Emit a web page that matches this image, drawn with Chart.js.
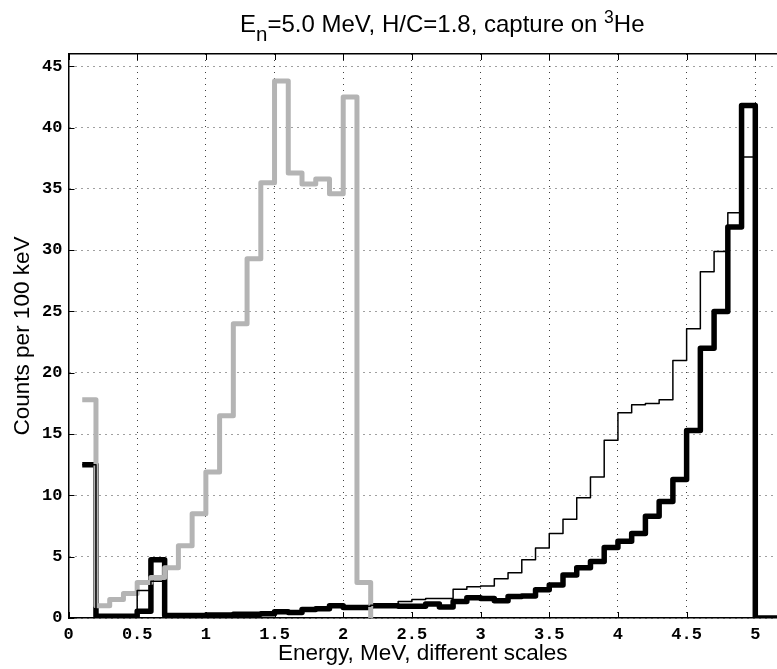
<!DOCTYPE html>
<html>
<head>
<meta charset="utf-8">
<script src="https://cdn.jsdelivr.net/npm/chart.js@4.4.0/dist/chart.umd.min.js"></script>
<style>
  html, body { margin: 0; padding: 0; background: #fff; }
  #wrap { position: relative; width: 777px; height: 669px; overflow: hidden; }
  #title { position: absolute; left: 240px; top: 13px; font: 24px "Liberation Sans", Arial, sans-serif; line-height: 22px; color: #000; white-space: nowrap; }
  #title .sub { position: relative; top: 9px; font-size: 20.5px; }
  #title .sup { position: relative; top: -9px; font-size: 17.5px; }
</style>
</head>
<body>
<div id="wrap">
  <canvas id="c" width="777" height="669"></canvas>
  <div id="title">E<span class="sub">n</span>=5.0 MeV, H/C=1.8, capture on <span class="sup">3</span>He</div>
</div>
<script>
// bin left edges, MeV (100 keV bins)
const binEdges = [0.1, 0.2, 0.3, 0.4, 0.5, 0.6, 0.7, 0.8, 0.9, 1.0,
  1.1, 1.2, 1.3, 1.4, 1.5, 1.6, 1.7, 1.8, 1.9, 2.0,
  2.1, 2.2, 2.3, 2.4, 2.5, 2.6, 2.7, 2.8, 2.9, 3.0,
  3.1, 3.2, 3.3, 3.4, 3.5, 3.6, 3.7, 3.8, 3.9, 4.0,
  4.1, 4.2, 4.3, 4.4, 4.5, 4.6, 4.7, 4.8, 4.9, 5.0,
  5.1, 5.2];

// grey: bins 0.1 .. 2.1
const grayCounts = [17.8, 1.0, 1.5, 2.0, 2.9, 3.3, 4.1, 5.9, 8.5, 11.9,
  16.5, 24.0, 29.3, 35.5, 43.8, 36.3, 35.4, 35.8, 34.6, 42.5,
  2.9];

// thick black: bins 0.1 .. 5.1
const thickCounts = [12.5, 0.15, 0.15, 0.15, 0.55, 4.75, 0.2, 0.2, 0.2, 0.25,
  0.25, 0.3, 0.3, 0.35, 0.5, 0.45, 0.7, 0.75, 1.0, 0.85,
  0.85, 1.0, 1.0, 0.95, 0.95, 1.15, 0.9, 1.35, 1.65, 1.6,
  1.4, 1.75, 1.8, 2.3, 2.7, 3.5, 4.1, 4.6, 5.75, 6.25,
  6.9, 8.3, 9.5, 11.3, 15.3, 22.0, 25.0, 31.9, 41.8, 0,
  0];

// thin black: bins 0.1 .. 5.1
const thinCounts = [12.5, 0.05, 0.05, 0.05, 2.25, 3.0, 0.1, 0.1, 0.15, 0.2,
  0.2, 0.25, 0.3, 0.35, 0.45, 0.45, 0.65, 0.75, 0.9, 0.95,
  0.95, 1.05, 1.15, 1.35, 1.5, 1.6, 1.6, 2.35, 2.55, 2.6,
  3.2, 3.7, 4.75, 5.7, 6.9, 8.05, 9.8, 11.5, 14.5, 16.75,
  17.4, 17.5, 17.8, 21.0, 23.6, 28.25, 29.9, 33.05, 37.6, 0,
  0];

const xTicks = [0, 0.5, 1, 1.5, 2, 2.5, 3, 3.5, 4, 4.5, 5];
const yTicks = [0, 5, 10, 15, 20, 25, 30, 35, 40, 45];

const X_MAX = 5.158, Y_MAX = 46;

// MATLAB-like stairs: step at each bin edge, drop to 0 at the last edge
function stairs(counts) {
  const pts = counts.map((c, i) => ({ x: binEdges[i], y: c }));
  pts.push({ x: binEdges[counts.length], y: 0 });
  return pts;
}

const tickFont = { family: 'Liberation Mono', size: 17, weight: 'bold' };
const labelFont = { family: 'Liberation Sans', size: 22.5 };

// short tick marks drawn inside the box
const inwardTicks = {
  id: 'inwardTicks',
  afterDraw(chart) {
    const { ctx, chartArea: a, scales: { x, y } } = chart;
    ctx.save();
    ctx.strokeStyle = '#000';
    ctx.lineWidth = 1;
    ctx.beginPath();
    xTicks.forEach(v => {
      const px = Math.round(x.getPixelForValue(v)) + 0.5;
      ctx.moveTo(px, a.bottom); ctx.lineTo(px, a.bottom - 6);
      ctx.moveTo(px, a.top); ctx.lineTo(px, a.top + 6);
    });
    yTicks.forEach(v => {
      const py = Math.round(y.getPixelForValue(v)) + 0.5;
      ctx.moveTo(a.left, py); ctx.lineTo(a.left + 6, py);
    });
    ctx.stroke();
    ctx.restore();
  }
};

new Chart(document.getElementById('c'), {
  type: 'line',
  data: {
    datasets: [
      { data: stairs(thinCounts), borderColor: '#000', borderWidth: 1.5, order: 1 },
      { data: stairs(grayCounts), borderColor: '#b4b4b4', borderWidth: 5, order: 2 },
      { data: stairs(thickCounts), borderColor: '#000', borderWidth: 5.5, order: 3 }
    ].map(d => Object.assign(d, { stepped: 'before', pointRadius: 0, fill: false, clip: 0, borderJoinStyle: 'round' }))
  },
  options: {
    responsive: false, animation: false, events: [],
    layout: { padding: 0 },
    plugins: { legend: { display: false }, tooltip: { enabled: false } },
    scales: {
      x: {
        type: 'linear', position: 'bottom', min: 0, max: X_MAX,
        afterBuildTicks: s => { s.ticks = xTicks.map(v => ({ value: v })); },
        afterFit: s => { s.height = 51; },
        ticks: { font: tickFont, color: '#000', padding: 7, maxRotation: 0, autoSkip: false, callback: v => String(v) },
        grid: { color: 'rgba(0,0,0,0.75)', lineWidth: 1, drawTicks: false },
        border: { display: true, color: '#000', width: 1.5, dash: [1, 5] },
        title: { display: true, text: 'Energy, MeV, different scales', font: labelFont, color: '#000', padding: { top: 0, bottom: 1.5 } }
      },
      x2: {
        type: 'linear', position: 'top', min: 0, max: X_MAX,
        afterFit: s => { s.height = 54; },
        ticks: { display: false },
        grid: { display: false, drawTicks: false },
        border: { display: true, color: '#000', width: 1.5 }
      },
      y: {
        type: 'linear', position: 'left', min: 0, max: Y_MAX,
        afterBuildTicks: s => { s.ticks = yTicks.map(v => ({ value: v })); },
        afterFit: s => { s.width = 68.5; },
        ticks: { font: tickFont, color: '#000', padding: 6, callback: v => String(v) },
        grid: { color: 'rgba(0,0,0,0.75)', lineWidth: 1, drawTicks: false },
        border: { display: true, color: '#000', width: 1.5, dash: [1, 5] },
        title: { display: true, text: 'Counts per 100 keV', font: labelFont, color: '#000', padding: { top: 9, bottom: 0 } }
      }
    }
  },
  plugins: [inwardTicks]
});
</script>
</body>
</html>
